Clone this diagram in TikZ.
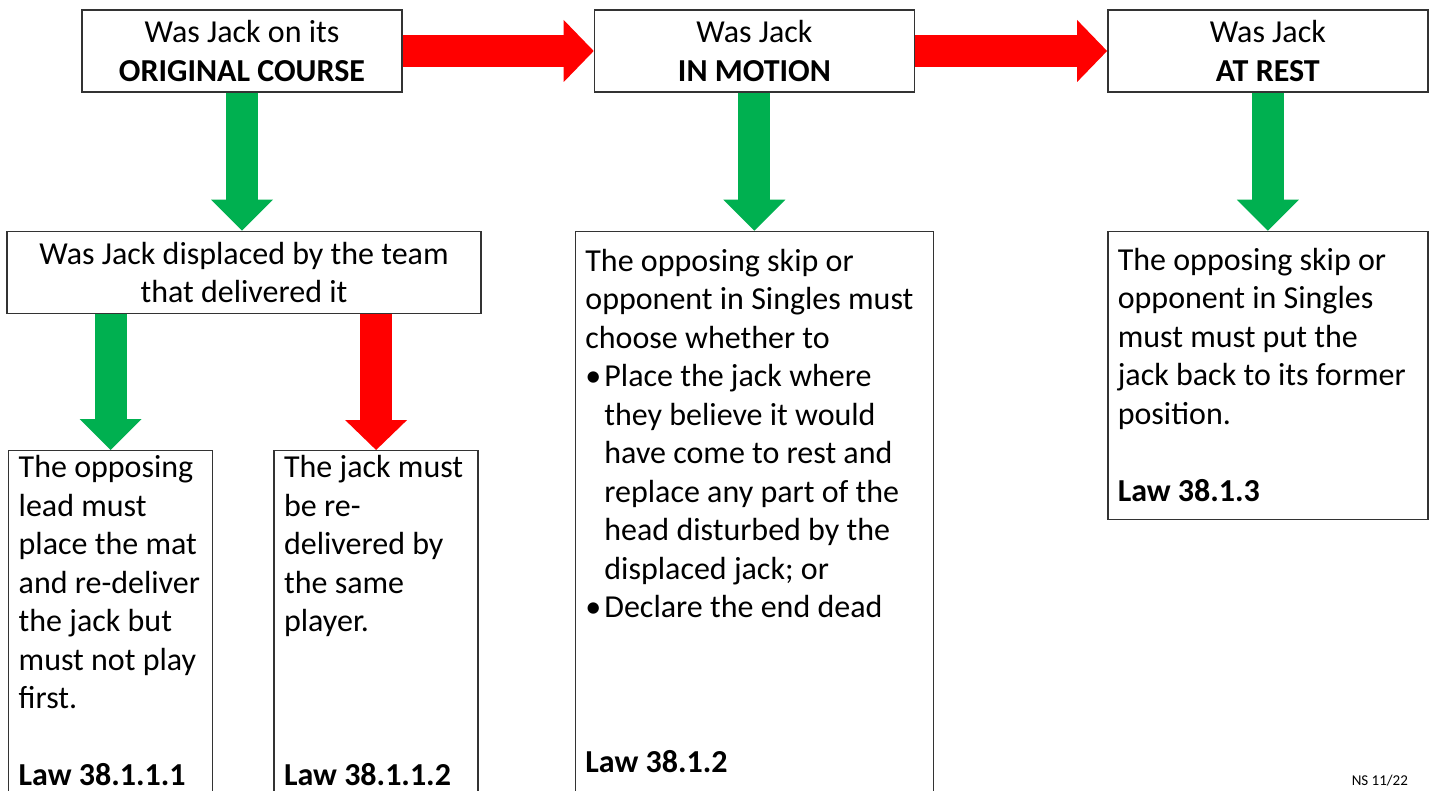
\documentclass[tikz,border=0pt]{standalone}
\usepackage{fontspec}
\setmainfont{Carlito}
\usepackage{tikz}
\usetikzlibrary{positioning, arrows.meta}
\definecolor{yesgreen}{HTML}{00B050}
\definecolor{nored}{HTML}{FF0000}
\newcommand{\lawref}[2]{\textbf{Law #1}\rule[-#2]{0pt}{#2}}
\newcommand{\bul}{\makebox[9.5pt][l]{\textbullet}}
\newcommand{\ind}{\hspace*{9.5pt}}

\begin{document}
\begin{tikzpicture}[x=0.5pt, y=-0.5pt,
  font=\fontsize{16}{19.25}\selectfont,
  qbox/.style={draw=black!80, line width=0.7pt, minimum width=160pt,
               minimum height=41pt, align=center, inner sep=0pt},
  abox/.style={draw=black!80, line width=0.7pt, align=flush left, inner xsep=5pt},
  yesarrow/.style={draw=yesgreen, line width=16pt,
                   -{Triangle[length=15.5pt, width=31pt, line width=0pt]}},
  noarrow/.style={draw=nored, line width=16pt,
                  -{Triangle[length=15pt, width=31pt, line width=0pt]}}]
  \useasboundingbox (0,0) rectangle (1429,791);
  \clip (0,0) rectangle (1429,791);

  \node[qbox] (orig) at (242,51) {Was Jack on its\\\textbf{ORIGINAL COURSE}};
  \node[qbox, right=95.5pt of orig] (motion) {Was Jack\\\textbf{IN MOTION}};
  \node[qbox, right=96pt of motion] (rest) {Was Jack\\\textbf{AT REST}};

  \node[qbox, minimum width=237pt, below=69pt of orig, xshift=1pt] (disp)
        {Was Jack displaced by the team\\that delivered it};

  \node[abox, text width=92pt, inner ysep=0pt, anchor=north west] (lead) at (8,450)
        {\strut The opposing\\lead must\\place the mat\\and re-deliver\\the jack but\\must not play\\first.\\[19.25pt]\lawref{38.1.1.1}{20pt}};
  \node[abox, text width=92pt, inner ysep=0pt, right=30pt of lead.north east,
        anchor=north west] (redo)
        {\strut The jack must\\be re-\\delivered by\\the same\\player.\\[57.75pt]\lawref{38.1.1.2}{20pt}};

  \node[abox, text width=169pt, inner ysep=6.5pt, below=69pt of motion] (choose)
        {\strut The opposing skip or\\opponent in Singles must\\choose whether to\\
         \bul Place the jack where\\\ind they believe it would\\\ind have come to rest and\\
         \ind replace any part of the\\\ind head disturbed by the\\\ind displaced jack; or\\
         \bul Declare the end dead\\[58.25pt]\lawref{38.1.2}{20pt}};

  \node[abox, text width=150pt, inner ysep=6pt, below=69pt of rest] (back)
        {\strut The opposing skip or\\opponent in Singles\\must must put the\\jack back to its former\\position.\\[19.25pt]\lawref{38.1.3}{3pt}};

  \node[font=\fontsize{7.5}{9}\selectfont, anchor=base east] (ver) at (1415,785) {NS 11/22};

  \draw[noarrow] (orig.east) -- (motion.west);
  \draw[noarrow] (motion.east) -- (rest.west);
  \draw[yesarrow] (orig.south) -- (orig.south |- disp.north);
  \draw[yesarrow] (motion.south) -- (motion.south |- choose.north);
  \draw[yesarrow] (rest.south) -- (rest.south |- back.north);
  \draw[yesarrow] (lead.north |- disp.south) -- (lead.north);
  \draw[noarrow] (redo.north |- disp.south) -- (redo.north);
\end{tikzpicture}
\end{document}
